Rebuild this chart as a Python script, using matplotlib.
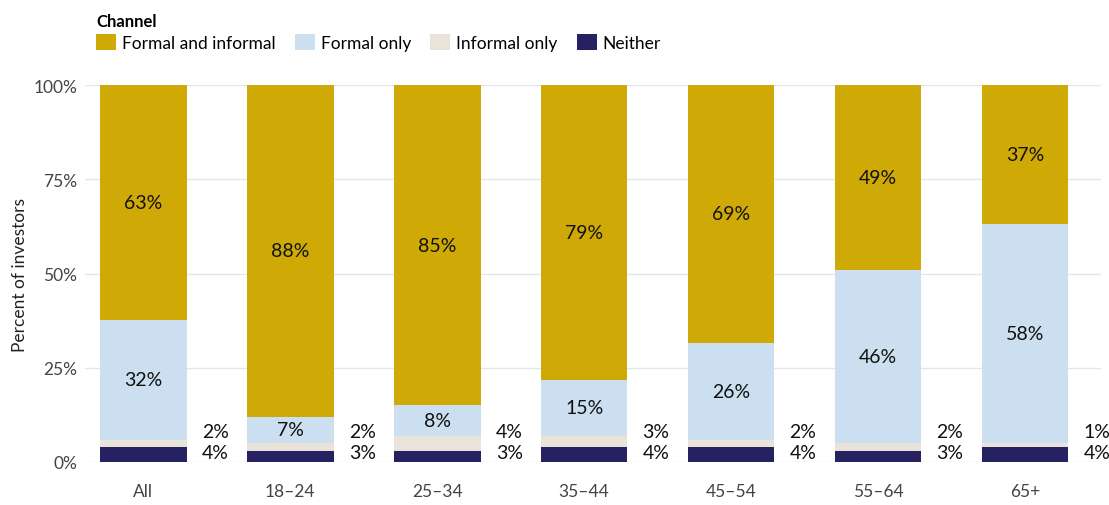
import matplotlib.pyplot as plt
from matplotlib.patches import Patch
import numpy as np

plt.rcParams['font.family'] = ['Lato', 'DejaVu Sans']

# age groups
groups = ['All', '18–24', '25–34', '35–44', '45–54', '55–64', '65+']

# shares shown on the chart (percent, rounded)
neither = [4, 3, 3, 4, 4, 3, 4]
informal_only = [2, 2, 4, 3, 2, 2, 1]
formal_only = [32, 7, 8, 15, 26, 46, 58]
both = [63, 88, 85, 79, 69, 49, 37]

series = [neither, informal_only, formal_only, both]
names = ['Neither', 'Informal only', 'Formal only', 'Formal and informal']
colors = ['#262262', '#EAE3D9', '#CCDFF0', '#CFAA06']

vals = np.array(series, dtype=float)
shares = vals / vals.sum(axis=0) * 100  # rounding makes some columns add to 101

fig = plt.figure(figsize=(11.09, 5.06), dpi=100)
ax = fig.add_axes([0.077, 0.085, 0.916, 0.745])

x = np.arange(len(groups))
bottom = np.zeros(len(groups))
for i in range(4):
    ax.bar(x, shares[i], bottom=bottom, width=0.59, color=colors[i], zorder=2)
    if i >= 2:
        for j in range(len(groups)):
            ax.text(x[j], bottom[j] + shares[i][j] / 2, f'{series[i][j]}%',
                    ha='center', va='center', fontsize=14, color='#111111', zorder=3)
    bottom += shares[i]

# small segments are labelled beside the bar
for j in range(len(groups)):
    ax.text(x[j] + 0.49, 8.2, f'{informal_only[j]}%', ha='center', va='center',
            fontsize=14, color='#111111')
    ax.text(x[j] + 0.49, 2.6, f'{neither[j]}%', ha='center', va='center',
            fontsize=14, color='#111111')

ax.set_xlim(-0.395, 6.52)
ax.set_ylim(0, 100)
ax.set_yticks([0, 25, 50, 75, 100])
ax.set_yticklabels(['0%', '25%', '50%', '75%', '100%'])
ax.set_xticks(x)
ax.set_xticklabels(groups)
ax.tick_params(axis='both', length=0, labelsize=12.5, colors='#444444')
ax.tick_params(axis='x', pad=15)
ax.tick_params(axis='y', pad=6)
ax.grid(axis='y', color='#E6E6E6', linewidth=1, zorder=0)
for s in ax.spines.values():
    s.set_visible(False)
ax.set_ylabel('Percent of investors', fontsize=12.5, color='#222222', labelpad=4)

handles = [Patch(facecolor=colors[i], label=names[i]) for i in [3, 2, 1, 0]]
leg = fig.legend(handles=handles, loc='upper left', bbox_to_anchor=(0.074, 1.0),
                 ncol=4, frameon=False, title='Channel', alignment='left',
                 fontsize=12.5, title_fontproperties={'weight': 'bold', 'size': 12},
                 handlelength=1.15, handleheight=1.0, handletextpad=0.35,
                 columnspacing=1.1, borderpad=0.3, labelspacing=0.3)

fig.savefig('out.png', dpi=100)
